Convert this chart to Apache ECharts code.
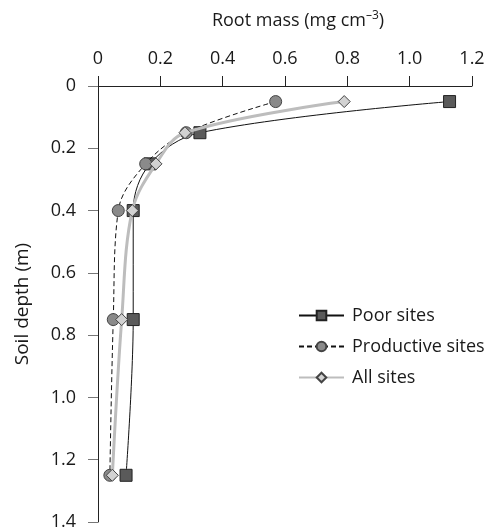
<!DOCTYPE html>
<html>
<head>
<meta charset="utf-8">
<script src="https://cdn.jsdelivr.net/npm/echarts@6/dist/echarts.min.js"></script>
<style>html,body{margin:0;padding:0;background:#fff}#c{width:492px;height:532px}</style>
</head>
<body>
<div id="c"></div>
<script>
const depths = [0.05, 0.15, 0.25, 0.40, 0.75, 1.25];
const poorSites = [1.128, 0.327, 0.167, 0.113, 0.113, 0.090];
const productiveSites = [0.570, 0.283, 0.153, 0.065, 0.049, 0.038];
const allSites = [0.790, 0.279, 0.186, 0.110, 0.076, 0.046];
const seriesNames = ['Poor sites', 'Productive sites', 'All sites'];
const xTicks = [0, 0.2, 0.4, 0.6, 0.8, 1.0, 1.2];
const yTicks = [0, 0.2, 0.4, 0.6, 0.8, 1.0, 1.2, 1.4];

const FONT = 'Open Sans';
const TXT = '#1a1a1a';
const fmt = v => v === 0 ? '0' : v.toFixed(1);
const pairs = arr => arr.map((x, i) => [x, depths[i]]);

const chart = echarts.init(document.getElementById('c'), null, {renderer: 'canvas'});
chart.setOption({
  animation: false,
  backgroundColor: '#fff',
  textStyle: {fontFamily: FONT},
  grid: {left: 98, top: 86, right: 20, bottom: 10},
  legend: {
    orient: 'vertical',
    left: 293, top: 300,
    itemWidth: 45, itemHeight: 12, itemGap: 10,
    textStyle: {fontFamily: FONT, fontSize: 18, color: TXT, lineHeight: 21, padding: [0, 0, 0, 3]},
    data: seriesNames
  },
  xAxis: {
    type: 'value', position: 'top',
    min: xTicks[0], max: xTicks[xTicks.length - 1], interval: 0.2,
    name: 'Root mass (mg cm{sup|–3})', nameLocation: 'middle', nameGap: 55,
    nameTextStyle: {fontFamily: FONT, fontSize: 18, color: TXT, padding: [0, 0, 0, 26],
      rich: {sup: {fontFamily: FONT, fontSize: 12, color: TXT, padding: [0, 0, 9, 0]}}},
    axisLine: {show: true, lineStyle: {color: '#222', width: 1}},
    axisTick: {show: true, inside: false, length: 10, lineStyle: {color: '#222'}},
    axisLabel: {formatter: fmt, fontFamily: FONT, fontSize: 18, color: TXT, margin: 18},
    splitLine: {show: false}
  },
  yAxis: {
    type: 'value', inverse: true,
    min: yTicks[0], max: yTicks[yTicks.length - 1], interval: 0.2,
    name: 'Soil depth (m)', nameLocation: 'middle', nameGap: 66, nameRotate: 90,
    nameTextStyle: {fontFamily: FONT, fontSize: 19, color: TXT},
    axisLine: {show: true, lineStyle: {color: '#222', width: 1}},
    axisTick: {show: true, inside: false, length: 10, lineStyle: {color: '#777'}},
    axisLabel: {formatter: fmt, fontFamily: FONT, fontSize: 18, color: TXT, margin: 22},
    splitLine: {show: false}
  },
  series: [
    {
      name: seriesNames[0], type: 'line', data: pairs(poorSites),
      smooth: 0.35, symbol: 'rect', symbolSize: 12,
      lineStyle: {color: '#111', width: 1},
      itemStyle: {color: '#5a5a5a', borderColor: '#222', borderWidth: 1},
      z: 2
    },
    {
      name: seriesNames[1], type: 'line', data: pairs(productiveSites),
      smooth: 0.35, symbol: 'circle', symbolSize: 12,
      lineStyle: {color: '#111', width: 1, type: [5, 3]},
      itemStyle: {color: '#8a8a8a', borderColor: '#444', borderWidth: 1},
      z: 3
    },
    {
      name: seriesNames[2], type: 'line', data: pairs(allSites),
      smooth: 0.35, symbol: 'diamond', symbolSize: 12,
      lineStyle: {color: '#bdbdbd', width: 3},
      itemStyle: {color: '#d2d2d2', borderColor: '#444', borderWidth: 1},
      z: 4
    }
  ]
});
</script>
</body>
</html>
